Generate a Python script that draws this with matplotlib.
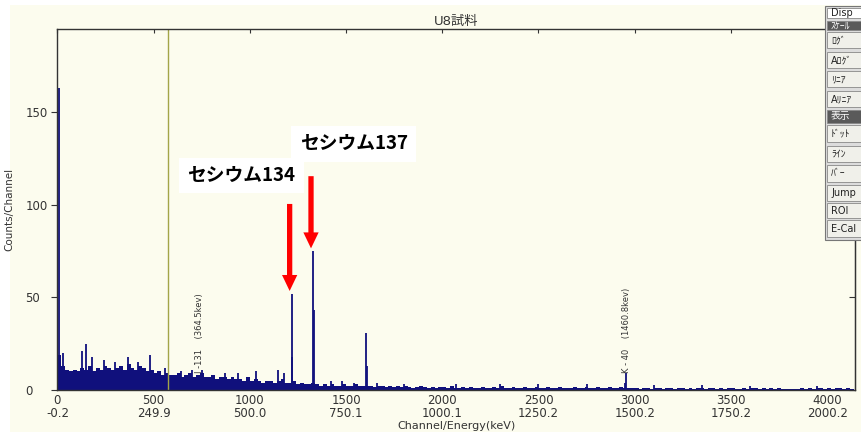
import numpy as np
import matplotlib
matplotlib.use("Agg")
import matplotlib.pyplot as plt
from matplotlib.patches import Rectangle, FancyArrowPatch

plt.rcParams["font.family"] = ["DejaVu Sans", "Noto Sans CJK JP"]

# spectrum background, counts per 20-channel bin (channel 0 .. 4140)
bin_width = 20
background = [
    19, 13, 11, 10, 11, 10, 12, 11, 13, 10,
    12, 11, 13, 12, 11, 12, 13, 11, 14, 12,
    11, 13, 12, 10, 11, 9, 10, 8, 9, 8,
    8, 9, 7, 8, 9, 7, 8, 9, 7, 7,
    8, 6, 7, 7, 6, 7, 6, 6, 5, 7,
    5, 6, 5, 4, 5, 5, 4, 5, 6, 4,
    4, 5, 3, 4, 3, 3, 4, 3, 2, 3,
    2, 3, 2, 2, 3, 2, 2, 3, 2, 2,
    2, 2, 1.5, 2, 2, 1.5, 2, 1.5, 2, 1.5,
    2, 1.5, 1, 1.5, 2, 1.5, 1, 1.5, 1, 1.5,
    1.5, 1, 2, 1, 1, 1.5, 1, 1.5, 1, 1,
    1.5, 1, 1, 1.5, 1, 2, 1, 1, 1.5, 1,
    1, 1.5, 1, 1, 1.5, 1, 1, 1.5, 1, 1,
    1.5, 1, 1, 1, 1.5, 1, 1, 1.5, 1, 1,
    1.5, 1, 1, 1.5, 1, 1, 1.5, 1, 1, 1,
    1, 0.5, 1, 1, 0.5, 1, 1, 0.5, 1, 1,
    0.5, 1, 1, 0.5, 1, 0.5, 1, 1, 0.5, 1,
    1, 0.5, 1, 0.5, 1, 1, 0.5, 0.5, 1, 0.5,
    1, 1, 0.5, 1, 0.5, 1, 0.5, 1, 0.5, 0.5,
    0.3, 0.3, 0.5, 1, 0.5, 1, 0.5, 1, 1, 0.5,
    1, 0.5, 1, 1, 0.5, 1, 0.5,
]

# narrow lines / peaks: channel and counts
spike_ch = [6, 28, 126, 147, 181, 240, 300, 368, 420, 480, 560, 640, 700, 750,
            870, 940, 1032, 1146, 1180, 1217, 1221, 1328, 1332, 1420, 1480,
            1540, 1606, 1609, 1660, 1800, 2073, 2300, 2500, 2750, 2948, 2953,
            3100, 3350, 3600, 3950]
spike_counts = [163, 20, 21, 25, 18, 16, 15, 18, 15, 19, 12, 10, 11, 11,
                9, 9, 10, 11, 9, 52, 18, 75, 43, 5, 5,
                4, 31, 13, 4, 3, 3, 3, 3, 3, 4, 9,
                2.5, 2.5, 2, 2]

xticks = [0, 500, 1000, 1500, 2000, 2500, 3000, 3500, 4000]
energy = ["-0.2", "249.9", "500.0", "750.1", "1000.1", "1250.2", "1500.2", "1750.2", "2000.2"]
yticks = [0, 50, 100, 150]

roi_marker = 573
cs134_ch, cs134_top = 1217, 52
cs137_ch, cs137_top = 1328, 75

W, H = 861, 432
cream = "#fcfcee"
navy = "#10107c"
fig = plt.figure(figsize=(W / 100, H / 100), dpi=100, facecolor=cream)


def fx(x):
    return x / W


def fy(y):
    return 1 - y / H


# white margin on the left and top of the screenshot
fig.patches.append(Rectangle((0, 0), fx(10), 1, transform=fig.transFigure,
                             facecolor="white", edgecolor="none", zorder=-1))
fig.patches.append(Rectangle((0, fy(5)), 1, 1, transform=fig.transFigure,
                             facecolor="white", edgecolor="none", zorder=-1))

ax = fig.add_axes([fx(57), fy(390), fx(855) - fx(57), fy(29) - fy(390)])
ax.set_facecolor(cream)

edges = np.arange(len(background) + 1) * bin_width
ax.stairs(background, edges, fill=True, color=navy, linewidth=0)
ax.vlines(spike_ch, 0, spike_counts, color=navy, linewidth=1.3)
ax.axvline(roi_marker, color="#a3a548", linewidth=1)

ax.set_xlim(-2, 4145)
ax.set_ylim(0, 195)
ax.set_xticks(xticks)
ax.set_xticklabels([f"{c}\n{e}" for c, e in zip(xticks, energy)], fontsize=8.5,
                   color="#333333", linespacing=0.95)
ax.set_yticks(yticks)
ax.set_yticklabels([str(v) for v in yticks], fontsize=8.5, color="#333333")
ax.tick_params(axis="x", direction="in", top=True, bottom=False, length=3,
               pad=3, color="#333333")
ax.tick_params(axis="y", direction="out", length=4, pad=18.7, color="#333333")
for lbl in ax.get_yticklabels():
    lbl.set_horizontalalignment("left")
right = ax.secondary_yaxis("right")
right.set_yticks(yticks)
right.tick_params(direction="in", length=4, labelright=False, color="#333333")
right.spines["right"].set_color("#333333")
for s in ax.spines.values():
    s.set_color("#333333")
    s.set_linewidth(1)

ax.set_xlabel("Channel/Energy(keV)", fontsize=8, color="#333333", labelpad=1)
ax.set_ylabel("Counts/Channel", fontsize=7.5, color="#333333")
ax.yaxis.set_label_coords(-0.053, 0.5)
ax.set_title("U8試料", fontsize=9.5, color="#333333", pad=3)

# nuclide labels
ax.text(740, 9, "I -131    (364.5kev)", rotation=90, ha="center", va="bottom",
        fontsize=6, color="#333333")
ax.text(2957, 9, "K - 40    (1460.8kev)", rotation=90, ha="center", va="bottom",
        fontsize=6, color="#333333")

# red arrows with labels
for ch, top, tail, lx, ly, name in [
        (cs134_ch, cs134_top, 50, 957, 116, "セシウム134"),
        (cs137_ch, cs137_top, 42, 1540, 133, "セシウム137")]:
    ax.add_patch(FancyArrowPatch((ch - 10, top + tail), (ch - 10, top),
                                 arrowstyle="simple,head_length=11.5,head_width=11,tail_width=3.8",
                                 mutation_scale=1, color="#ff0000", linewidth=0, zorder=5))
    ax.text(lx, ly, name, ha="center", va="center", fontsize=13.5, fontweight="bold",
            family=["Noto Sans CJK JP"], color="black", zorder=6,
            bbox=dict(facecolor="white", edgecolor="none", pad=6))

# right-hand button panel
buttons = [("Disp", 8, 18, "white"), ("ｽｹｰﾙ", 21, 30, "dark"), ("ﾛｸﾞ", 32, 48, "btn"),
           ("Aﾛｸﾞ", 52, 68, "btn"), ("ﾘﾆｱ", 71, 87, "btn"), ("Aﾘﾆｱ", 91, 107, "btn"),
           ("表示", 110, 123, "dark"), ("ﾄﾞｯﾄ", 125, 142, "btn"), ("ﾗｲﾝ", 146, 162, "btn"),
           ("ﾊﾞｰ", 165, 182, "btn"), ("Jump", 185, 201, "btn"), ("ROI", 203, 218, "btn"),
           ("E-Cal", 220, 237, "btn")]
fig.patches.append(Rectangle((fx(825), fy(240)), 1, fy(6) - fy(240), transform=fig.transFigure,
                             facecolor="#dcdcdc", edgecolor="#777777", linewidth=0.8, zorder=10))
for label, y0, y1, kind in buttons:
    fc = {"white": "white", "dark": "#5a5a5a", "btn": "#f0f0ea"}[kind]
    tc = "white" if kind == "dark" else "#222222"
    fig.patches.append(Rectangle((fx(827), fy(y1)), 1, fy(y0) - fy(y1), transform=fig.transFigure,
                                 facecolor=fc, edgecolor="#888888", linewidth=0.6, zorder=11))
    fig.text(fx(831), fy((y0 + y1) / 2), label, ha="left", va="center", fontsize=7,
             color=tc, zorder=12)

fig.savefig("out.png", dpi=100, facecolor=fig.get_facecolor())
